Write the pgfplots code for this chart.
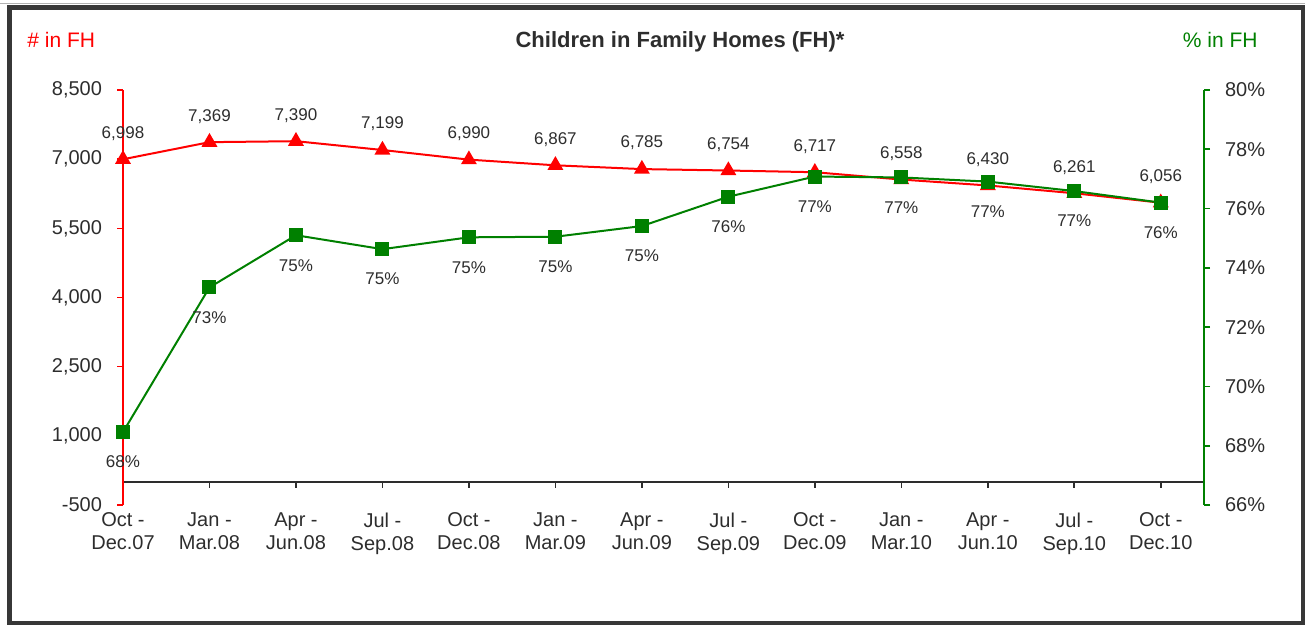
\documentclass[border=0pt]{standalone}
\usepackage{pgfplots}
\pgfplotsset{compat=1.18}
\usepackage{fontspec}
\setmainfont{Liberation Sans}
\definecolor{fhred}{RGB}{255,0,0}
\definecolor{fhgreen}{RGB}{0,128,0}
\definecolor{txtgray}{RGB}{45,45,45}
\definecolor{framegray}{RGB}{55,55,55}

% 1 px of the reference = 0.5pt; origin = bottom left corner of the plot box
\begin{document}
\begin{tikzpicture}
  \useasboundingbox (-61.5pt,-60pt) rectangle (591pt,252.5pt);
  \draw[gray!60, line width=0.5pt] (-61.5pt,250.9pt) -- (591pt,250.9pt);
  \draw[framegray, line width=2.5pt] (-56.75pt,-59.25pt) rectangle (590pt,248.75pt);

  \begin{axis}[
    at={(0,0)}, anchor=south west,
    scale only axis, width=540.5pt, height=207.5pt,
    xmin=0, xmax=12.5, ymin=-500, ymax=8500,
    axis x line=middle, axis y line*=left,
    hide obscured x ticks=false,
    x axis line style={-, txtgray, line width=1pt},
    y axis line style={fhred, line width=1pt},
    xtick={0,...,12},
    xticklabels={{Oct -\\Dec.07},{Jan -\\Mar.08},{Apr -\\Jun.08},{Jul -\\Sep.08},
      {Oct -\\Dec.08},{Jan -\\Mar.09},{Apr -\\Jun.09},{Jul -\\Sep.09},
      {Oct -\\Dec.09},{Jan -\\Mar.10},{Apr -\\Jun.10},{Jul -\\Sep.10},{Oct -\\Dec.10}},
    xticklabel style={align=center, font=\fontsize{10}{11.5}\selectfont, text=txtgray,
      anchor=north, yshift=-9pt},
    x tick style={txtgray, line width=0.8pt},
    ytick={-500,1000,2500,4000,5500,7000,8500},
    y tick style={fhred, line width=0.8pt},
    yticklabel style={font=\fontsize{10}{12}\selectfont, text=txtgray, xshift=-4pt},
    tick align=outside, major tick length=3pt,
    /pgf/number format/1000 sep={,},
    /pgf/number format/assume math mode=true,
    clip=false,
  ]
    \addplot[fhred, line width=1pt, mark=triangle*, mark size=3.6pt,
      mark options={fhred},
      nodes near coords,
      every node near coord/.append style={font=\fontsize{8.5}{10}\selectfont,
        text=txtgray, anchor=center, yshift=13pt}]
      coordinates {
      (0,6998)(1,7369)(2,7390)(3,7199)(4,6990)(5,6867)(6,6785)
      (7,6754)(8,6717)(9,6558)(10,6430)(11,6261)(12,6056)
    };
  \end{axis}

  \begin{axis}[
    at={(0,0)}, anchor=south west,
    scale only axis, width=540.5pt, height=207.5pt,
    xmin=0, xmax=12.5, ymin=66, ymax=80,
    axis x line=none, axis y line*=right,
    y axis line style={fhgreen, line width=1pt},
    ytick={66,68,...,80},
    yticklabel={\pgfmathprintnumber{\tick}\%},
    y tick style={fhgreen, line width=0.8pt},
    yticklabel style={font=\fontsize{10}{12}\selectfont, text=txtgray, xshift=4pt},
    tick align=outside, major tick length=3pt,
    /pgf/number format/assume math mode=true,
    clip=false,
  ]
    \addplot[fhgreen, line width=1pt, mark=square*, mark size=3pt,
      mark options={fhgreen},
      nodes near coords={\pgfmathprintnumber[fixed,precision=0]{\pgfplotspointmeta}\%},
      every node near coord/.append style={font=\fontsize{8.5}{10}\selectfont,
        text=txtgray, anchor=center, yshift=-15pt}]
      coordinates {
      (0,68.46)(1,73.34)(2,75.10)(3,74.63)(4,75.03)(5,75.05)(6,75.41)
      (7,76.40)(8,77.08)(9,77.05)(10,76.91)(11,76.59)(12,76.20)
    };
  \end{axis}

  \node[font=\bfseries\fontsize{11}{13}\selectfont, text=txtgray] at (278.5pt,231.5pt)
    {Children in Family Homes (FH)*};
  \node[font=\fontsize{10.5}{12}\selectfont, text=fhred, anchor=west, inner sep=0pt]
    at (-48pt,232.5pt) {\# in FH};
  \node[font=\fontsize{10.5}{12}\selectfont, text=fhgreen, anchor=east, inner sep=0pt]
    at (567.5pt,232.5pt) {\% in FH};
\end{tikzpicture}
\end{document}
